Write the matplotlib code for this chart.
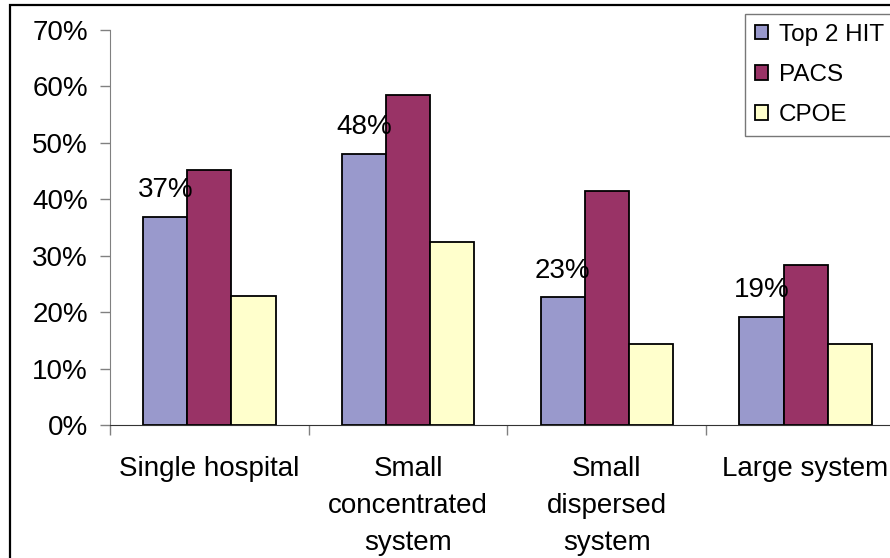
import matplotlib.pyplot as plt
import matplotlib.patches as mpatches
import numpy as np

plt.rcParams['font.family'] = ['Liberation Sans', 'DejaVu Sans']

categories = ['Single hospital', 'Small\nconcentrated\nsystem',
              'Small\ndispersed\nsystem', 'Large system']
series_names = ['Top 2 HIT', 'PACS', 'CPOE']
top2_hit = [0.368, 0.480, 0.226, 0.191]
pacs = [0.452, 0.584, 0.414, 0.283]
cpoe = [0.229, 0.324, 0.144, 0.144]
labelled = top2_hit
colors = ['#9999CC', '#993366', '#FFFFCC']

W, H = 890, 558
fig = plt.figure(figsize=(W / 100, H / 100), dpi=100)

# chart frame (runs past the right and bottom edges)
fig.patches.append(mpatches.Rectangle((10 / W, -0.05), 1.1, 1 - 5 / H + 0.05,
                                      transform=fig.transFigure, fill=False,
                                      edgecolor='black', linewidth=1.6))

# plot area: 0% at y=425, 70% at y=30, category axis 110..905 px
ax = fig.add_axes([110 / W, (H - 425) / H, 795 / W, 395 / H])

x = np.arange(len(categories))
bw = 1 / 4.5
for i, vals in enumerate([top2_hit, pacs, cpoe]):
    ax.bar(x + (i - 1) * bw, vals, width=bw, color=colors[i],
           edgecolor='black', linewidth=1.3, label=series_names[i])

for xi, v in zip(x, labelled):
    ax.annotate(f'{v:.0%}', (xi - bw, v), xytext=(0, 10),
                textcoords='offset points', ha='center', va='bottom',
                fontsize=20)

ax.set_xlim(-0.5, len(categories) - 0.5)
ax.set_ylim(0, 0.70)
ax.set_yticks(np.arange(0, 0.71, 0.1))
ax.set_yticklabels([f'{int(round(t * 100))}%' for t in np.arange(0, 0.71, 0.1)],
                   fontsize=20)

ax.set_xticks(x)
ax.set_xticklabels(categories, fontsize=20, linespacing=1.55)
ax.set_xticks(np.arange(-0.5, len(categories) + 0.5, 1), minor=True)
ax.tick_params(axis='x', which='major', length=0, pad=22)
ax.tick_params(axis='x', which='minor', length=7, width=1, color='#808080',
               direction='out')
ax.tick_params(axis='y', length=7, width=1, color='#808080', pad=9)

for s in ['top', 'right']:
    ax.spines[s].set_visible(False)
ax.spines['left'].set_color('#808080')
ax.spines['bottom'].set_color('#333333')

leg = fig.legend(loc='upper left', bbox_to_anchor=(745 / W, 1 - 14 / H),
                 fontsize=17.5, frameon=True, fancybox=False,
                 edgecolor='#555555', handlelength=0.55, handleheight=0.55,
                 handletextpad=0.45, labelspacing=0.75, borderpad=0.4,
                 borderaxespad=0)
leg.get_frame().set_linewidth(1)

fig.savefig('out.png', dpi=100)
